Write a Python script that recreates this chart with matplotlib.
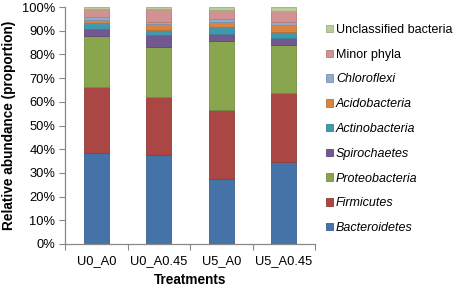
import matplotlib
matplotlib.use("Agg")
import matplotlib.pyplot as plt
import numpy as np

plt.rcParams['font.family'] = ['Liberation Sans', 'DejaVu Sans']

treatments = ["U0_A0", "U0_A0.45", "U5_A0", "U5_A0.45"]
phyla = ["Bacteroidetes", "Firmicutes", "Proteobacteria", "Spirochaetes",
         "Actinobacteria", "Acidobacteria", "Chloroflexi", "Minor phyla",
         "Unclassified bacteria"]
italic = [True, True, True, True, True, True, True, False, False]

# cumulative tops (%)
cum_tops = {
    "U0_A0":    [38.3, 66.4, 87.9, 90.6, 93.1, 94.6, 95.6, 99.0, 100.0],
    "U0_A0.45": [37.4, 62.2, 83.2, 88.0, 90.3, 92.7, 93.8, 99.0, 100.0],
    "U5_A0":    [27.3, 56.4, 85.5, 88.6, 91.4, 93.8, 94.8, 98.7, 100.0],
    "U5_A0.45": [34.7, 63.7, 84.1, 86.9, 89.5, 92.6, 93.5, 98.3, 100.0],
}
colors = ["#4572A7", "#AA4643", "#89A54E", "#71588F", "#4198AF",
          "#DB843D", "#93A9CF", "#D19392", "#B9CD96"]
edges = ["#3A6090", "#923B38", "#748D42", "#5F4A79", "#378196",
         "#BA7034", "#7D90B0", "#B27D7C", "#9DAE80"]

tops = np.array([cum_tops[t] for t in treatments]) / 100.0
values = np.diff(np.hstack([np.zeros((len(treatments), 1)), tops]), axis=1)

fig = plt.figure(figsize=(4.54, 2.88), dpi=100)
ax = fig.add_axes([65/454, 1 - 244/288, 250/454, 237/288])

x = np.arange(len(treatments))
bottom = np.zeros(len(treatments))
handles = []
for i, name in enumerate(phyla):
    b = ax.bar(x, values[:, i], bottom=bottom, width=0.4, color=colors[i],
               edgecolor=edges[i], linewidth=0.6, label=name)
    handles.append(b)
    bottom += values[:, i]

fs = 9.3
ax.set_xlim(-0.5, len(treatments) - 0.5)
ax.set_ylim(0, 1)
ax.set_yticks(np.arange(0, 1.01, 0.1))
ax.set_yticklabels([f"{int(round(v*100))}%" for v in np.arange(0, 1.01, 0.1)], fontsize=fs)
ax.set_xticks(x)
ax.set_xticklabels(treatments, fontsize=fs)
ax.set_xticks(np.arange(-0.5, len(treatments), 1.0), minor=True)
ax.tick_params(axis='x', which='major', length=0, pad=8)
ax.tick_params(axis='x', which='minor', length=4, color='#888888', width=0.8)
ax.tick_params(axis='y', length=4, color='#888888', width=0.8, pad=3)
for s in ['top', 'right']:
    ax.spines[s].set_visible(False)
for s in ['left', 'bottom']:
    ax.spines[s].set_color('#888888')
    ax.spines[s].set_linewidth(0.9)

ax.set_xlabel("Treatments", fontsize=9.8, fontweight='bold', labelpad=4)
ax.set_ylabel("Relative abundance (proportion)", fontsize=9.8, fontweight='bold', labelpad=4)

leg = ax.legend(handles[::-1], phyla[::-1], loc='upper left',
                bbox_to_anchor=(321/454, 1 - 19/288), bbox_transform=fig.transFigure,
                frameon=False, fontsize=9.0, handlelength=0.55, handleheight=0.55,
                handletextpad=0.25, labelspacing=1.02, borderaxespad=0)
for txt, it in zip(leg.get_texts(), italic[::-1]):
    if it:
        txt.set_style('italic')

fig.savefig("out.png", dpi=100)
